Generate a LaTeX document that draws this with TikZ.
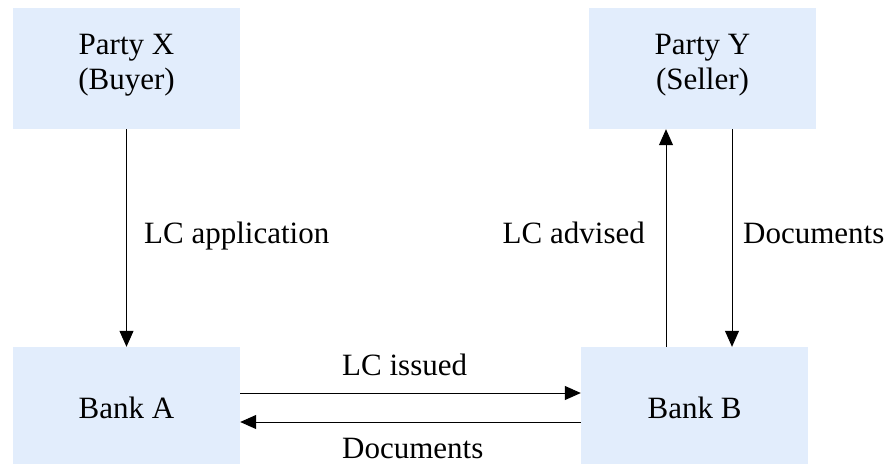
\documentclass[tikz,border=0pt]{standalone}
\usepackage{fontspec}
\setmainfont{Liberation Serif}
\usetikzlibrary{arrows.meta}
\definecolor{boxblue}{RGB}{226,237,252}
\begin{document}
\begin{tikzpicture}[x=1pt,y=-1pt,
  box/.style={fill=boxblue, draw=none, minimum width=227pt, minimum height=121pt, inner sep=0pt, align=center, font=\fontsize{31}{35}\selectfont},
  lbl/.style={inner sep=0pt, align=center, font=\fontsize{31}{35}\selectfont},
  arr/.style={line width=1pt, -{Triangle[length=16pt,width=14pt]}}]
\useasboundingbox (0,0) rectangle (896,463);
\node[box] (px) at (126.5,68.5) {};
\node[box] (py) at (702.5,68.5) {};
\node[lbl] (pxt) at (126.5,65.5) {Party X\\(Buyer)};
\node[lbl] (pyt) at (702.5,65.5) {Party Y\\(Seller)};
\node[box] (ba) at (126.5,407.5) {Bank A};
\node[box] (bb) at (694.5,407.5) {Bank B};
\coordinate (ux) at (666,0);
\coordinate (dx) at (732,0);
\coordinate (h1) at (0,393);
\coordinate (h2) at (0,422);
\draw[arr] (px.south) -- (ba.north);
\draw[arr] (bb.north -| ux) -- (py.south -| ux);
\draw[arr] (py.south -| dx) -- (bb.north -| dx);
\draw[arr] (ba.east |- h1) -- (bb.west |- h1);
\draw[arr] (bb.west |- h2) -- (ba.east |- h2);
\node[lbl, anchor=base west] (l1) at (144,243) {LC application};
\node[lbl, anchor=base east] (l2) at (645,243) {LC advised};
\node[lbl, anchor=base west] (l3) at (743,243) {Documents};
\node[lbl, anchor=base west] (l4) at (342,375) {LC issued};
\node[lbl, anchor=base west] (l5) at (342,458) {Documents};
\end{tikzpicture}
\end{document}
